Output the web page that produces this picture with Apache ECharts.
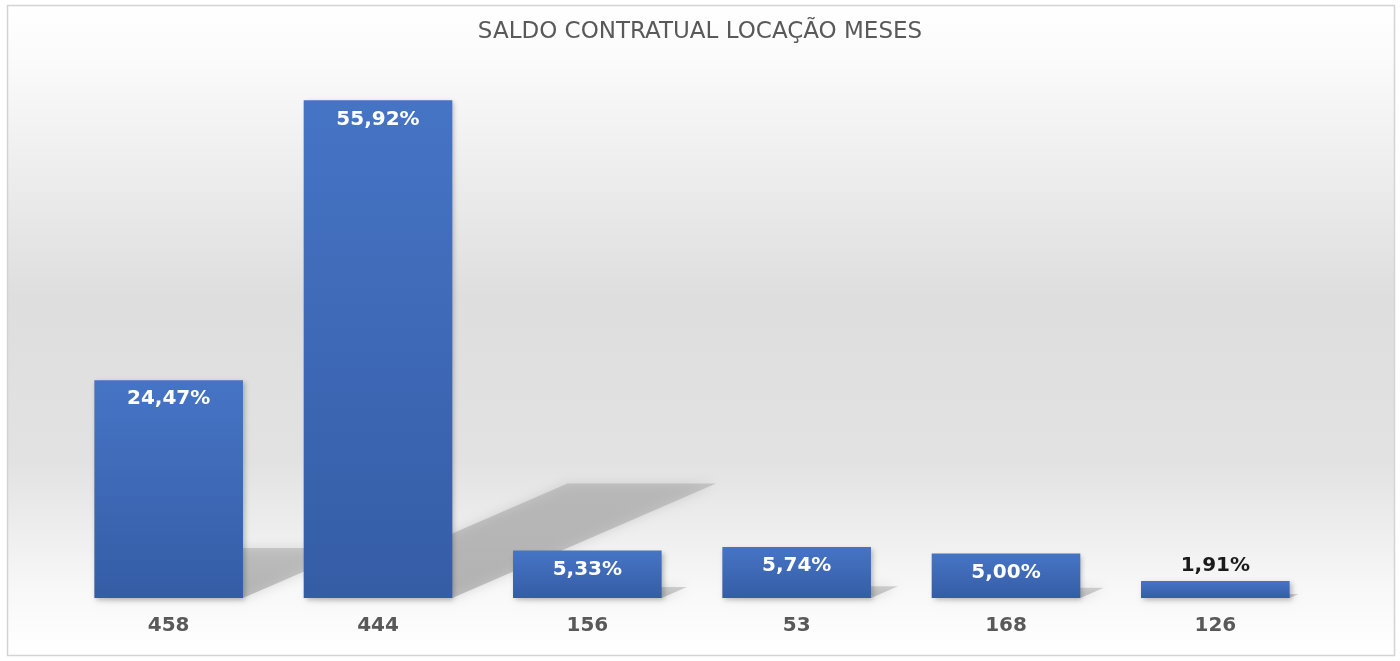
<!DOCTYPE html>
<html>
<head>
<meta charset="utf-8">
<script src="https://cdn.jsdelivr.net/npm/echarts@6/dist/echarts.min.js"></script>
<style>
  html, body { margin: 0; padding: 0; background: #fff; }
  #main { width: 1400px; height: 661px; }
</style>
</head>
<body>
<div id="main"></div>
<script>
// dados do grafico
var categorias = ['458', '444', '156', '53', '168', '126'];
var percentuais = [24.47, 55.92, 5.33, 5.74, 5.00, 1.91];

function fmt(v) {
	return v.toFixed(2).replace('.', ',') + '%';
}

var barData = percentuais.map(function (v) {
	if (v < 3) {
		// rotulo fora da barra, em preto
		return { value: v, label: { position: 'top', color: '#1a1a1a', distance: 5 } };
	}
	return v;
});

var chart = echarts.init(document.getElementById('main'));

var option = {
	backgroundColor: '#ffffff',
	title: {
		text: 'SALDO CONTRATUAL LOCAÇÃO MESES',
		left: 'center',
		top: 16,
		textStyle: {
			fontFamily: 'DejaVu Sans',
			fontSize: 23,
			fontWeight: 'normal',
			color: '#595959'
		}
	},
	graphic: [
		{
			type: 'rect',
			z: -10,
			silent: true,
			shape: { x: 7.5, y: 5.5, width: 1387, height: 650 },
			style: {
				stroke: '#d4d4d4',
				lineWidth: 1.5,
				fill: new echarts.graphic.LinearGradient(0, 0, 0, 1, [
					{ offset: 0, color: '#ffffff' },
					{ offset: 0.08, color: '#fbfbfb' },
					{ offset: 0.45, color: '#dedede' },
					{ offset: 0.7, color: '#e2e2e2' },
					{ offset: 0.9, color: '#f8f8f8' },
					{ offset: 1, color: '#ffffff' }
				])
			}
		}
	],
	grid: { left: 64, right: 80, top: 64, bottom: 63 },
	xAxis: {
		type: 'category',
		data: categorias,
		axisLine: { show: false },
		axisTick: { show: false },
		axisLabel: {
			margin: 18,
			fontFamily: 'DejaVu Sans',
			fontSize: 20,
			fontWeight: 'bold',
			color: '#595959'
		}
	},
	yAxis: {
		type: 'value',
		min: 0,
		max: 60,
		show: false,
		splitLine: { show: false }
	},
	series: [
		{
			// sombra em perspectiva atras das barras
			type: 'custom',
			z: 1,
			silent: true,
			data: percentuais.map(function (v, i) { return [i, v]; }),
			renderItem: function (params, api) {
				var base = api.coord([api.value(0), 0]);
				var top = api.coord([api.value(0), api.value(1)]);
				var w = api.size([1, 0])[0] * 0.71;
				var h = base[1] - top[1];
				var x0 = base[0] - w / 2;
				var x1 = base[0] + w / 2;
				var dx = h * 0.53;
				var dy = h * 0.23;
				return {
					type: 'polygon',
					shape: {
						points: [
							[x0, base[1]],
							[x1, base[1]],
							[x1 + dx, base[1] - dy],
							[x0 + dx, base[1] - dy]
						]
					},
					style: {
						fill: new echarts.graphic.LinearGradient(0, 1, 0, 0, [
							{ offset: 0, color: 'rgba(130,130,130,0.45)' },
							{ offset: 1, color: 'rgba(150,150,150,0.4)' }
						]),
						shadowBlur: 12,
						shadowColor: 'rgba(130,130,130,0.6)'
					}
				};
			}
		},
		{
			type: 'bar',
			z: 2,
			data: barData,
			barCategoryGap: '29%',
			itemStyle: {
				color: new echarts.graphic.LinearGradient(0, 0, 0, 1, [
					{ offset: 0, color: '#4674c5' },
					{ offset: 1, color: '#355da6' }
				]),
				shadowBlur: 5,
				shadowColor: 'rgba(0,0,0,0.25)',
				shadowOffsetX: 2,
				shadowOffsetY: 2
			},
			label: {
				show: true,
				position: 'insideTop',
				distance: 9,
				fontFamily: 'DejaVu Sans',
				fontSize: 20,
				fontWeight: 'bold',
				color: '#ffffff',
				formatter: function (p) { return fmt(p.value); }
			}
		}
	]
};

chart.setOption(option);
</script>
</body>
</html>
